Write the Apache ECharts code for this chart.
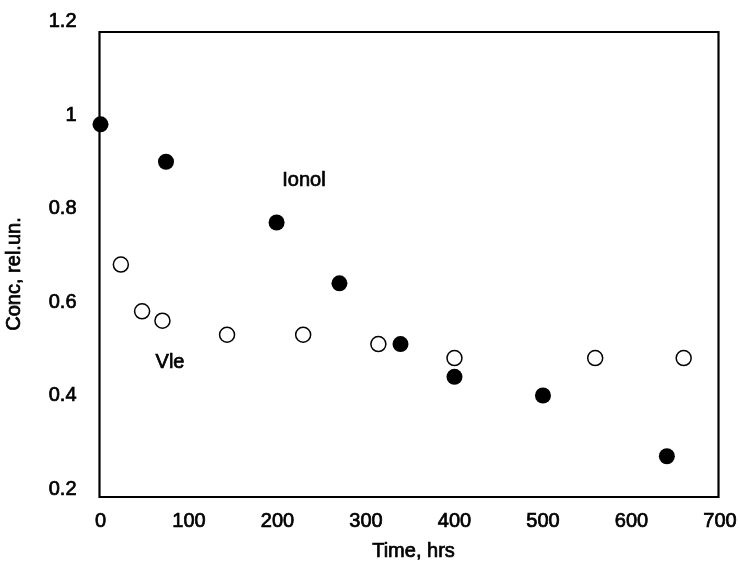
<!DOCTYPE html>
<html>
<head>
<meta charset="utf-8">
<script src="https://cdn.jsdelivr.net/npm/echarts@6/dist/echarts.min.js"></script>
<style>
    html, body { margin: 0; padding: 0; background: #fff; }
    #chart { width: 740px; height: 563px; }
</style>
</head>
<body>
<div id="chart"></div>
<script>
// Ionol (filled circles)
var ionolTime = [0, 74, 199, 270, 339, 400, 500, 640];
var ionolConc = [0.98, 0.90, 0.77, 0.64, 0.51, 0.44, 0.40, 0.27];

// Vle (open circles)
var vleTime = [23, 47, 70, 143, 229, 314, 400, 559, 659];
var vleConc = [0.68, 0.58, 0.56, 0.53, 0.53, 0.51, 0.48, 0.48, 0.48];

var xTicks = [0, 100, 200, 300, 400, 500, 600, 700];
var yTicks = [0.2, 0.4, 0.6, 0.8, 1, 1.2];

var font = '"Liberation Sans", Arial, sans-serif';

function pairs(xs, ys) {
    var out = [];
    for (var i = 0; i < xs.length; i++) {
        out.push([xs[i], ys[i]]);
    }
    return out;
}

// regular face, thickened a little like the scanned original
function txt(text, x, y, rot) {
    return {
        type: 'text',
        x: x, y: y, rotation: rot || 0,
        style: {
            text: text, fill: '#000', font: '20px ' + font,
            align: 'center', verticalAlign: 'middle',
            stroke: '#000', lineWidth: 0.7
        }
    };
}

var labelStyle = {
    color: '#000', fontSize: 20, fontFamily: font,
    textBorderColor: '#000', textBorderWidth: 0.7
};

var chartDom = document.getElementById('chart');
var myChart = echarts.init(chartDom);
var option;

option = {
    animation: false,
    backgroundColor: '#fff',
    textStyle: { fontFamily: font },
    grid: [
        // data grid, sized to the tick labels
        { left: 100.5, right: 20, top: 21.5, bottom: 74 },
        // frame
        { left: 99.5, right: 21.5, top: 32, bottom: 66, show: true, borderColor: '#000', borderWidth: 2.2, backgroundColor: 'transparent' }
    ],
    xAxis: [
        {
            gridIndex: 0,
            type: 'value',
            min: xTicks[0],
            max: xTicks[xTicks.length - 1],
            interval: 100,
            axisLine: { show: false },
            axisTick: { show: false },
            splitLine: { show: false },
            axisLabel: Object.assign({ margin: 22 }, labelStyle)
        },
        { gridIndex: 1, type: 'value', show: false, min: 0, max: 1 }
    ],
    yAxis: [
        {
            gridIndex: 0,
            type: 'value',
            min: yTicks[0],
            max: yTicks[yTicks.length - 1],
            interval: 0.2,
            axisLine: { show: false },
            axisTick: { show: false },
            splitLine: { show: false },
            axisLabel: Object.assign({ margin: 24 }, labelStyle)
        },
        { gridIndex: 1, type: 'value', show: false, min: 0, max: 1 }
    ],
    graphic: [
        txt('Conc, rel.un.', 14, 274, Math.PI / 2),
        txt('Time, hrs', 413.5, 551),
        txt('Ionol', 304, 180),
        txt('Vle', 170, 362)
    ],
    series: [
        {
            name: 'Vle',
            type: 'scatter',
            xAxisIndex: 0,
            yAxisIndex: 0,
            symbol: 'circle',
            symbolSize: 15,
            itemStyle: { color: '#fff', borderColor: '#000', borderWidth: 1.5, opacity: 1 },
            data: pairs(vleTime, vleConc)
        },
        {
            name: 'Ionol',
            type: 'scatter',
            xAxisIndex: 0,
            yAxisIndex: 0,
            symbol: 'circle',
            symbolSize: 16,
            itemStyle: { color: '#000', opacity: 1 },
            data: pairs(ionolTime, ionolConc)
        }
    ]
};

option && myChart.setOption(option);
</script>
</body>
</html>
